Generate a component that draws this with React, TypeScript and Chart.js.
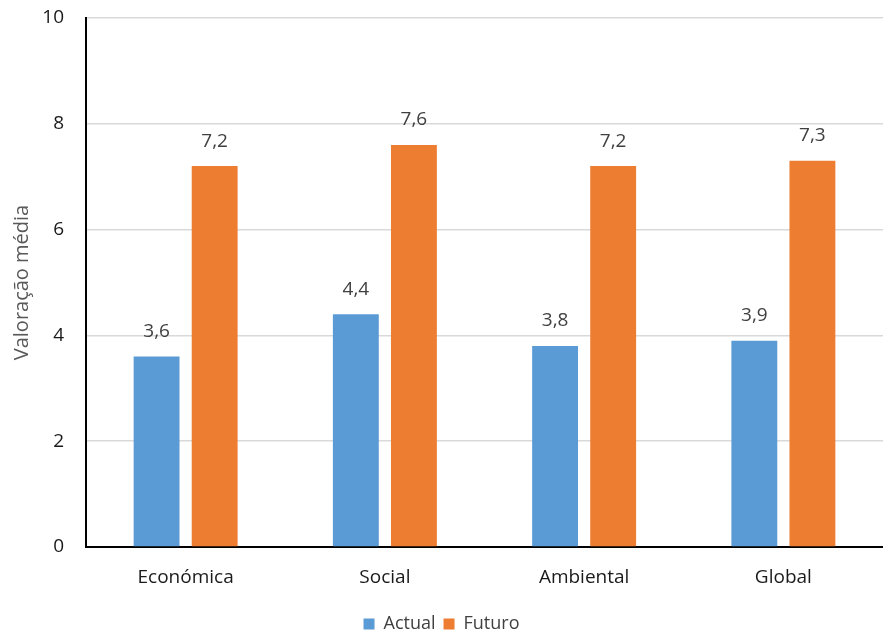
import React, { useEffect, useRef } from "react";
import { Chart, registerables } from "chart.js";

Chart.register(...registerables);

const categories = ["Económica", "Social", "Ambiental", "Global"];
const actualValues = [3.6, 4.4, 3.8, 3.9];
const futuroValues = [7.2, 7.6, 7.2, 7.3];
const seriesNames = ["Actual", "Futuro"];
const yTicks = [0, 2, 4, 6, 8, 10];

const FONT = "'Open Sans', 'DejaVu Sans', sans-serif";

const dataLabelPlugin = {
  id: "dataLabels",
  afterDatasetsDraw(chart: any) {
    const ctx = chart.ctx;
    ctx.save();
    ctx.font = `19px ${FONT}`;
    ctx.fillStyle = "#404040";
    ctx.textAlign = "center";
    ctx.textBaseline = "middle";
    chart.data.datasets.forEach((ds: any, i: number) => {
      const meta = chart.getDatasetMeta(i);
      meta.data.forEach((bar: any, j: number) => {
        const v = ds.data[j];
        ctx.fillText(String(v).replace(".", ","), bar.x, bar.y - 25);
      });
    });
    ctx.restore();
  },
};

export default function App() {
  const ref = useRef<HTMLCanvasElement | null>(null);
  useEffect(() => {
    if (!ref.current) return;
    const chart = new Chart(ref.current, {
      type: "bar",
      data: {
        labels: categories,
        datasets: [
          {
            label: seriesNames[0],
            data: actualValues,
            backgroundColor: "#5B9BD5",
            categoryPercentage: 0.583,
            barPercentage: 0.79,
          },
          {
            label: seriesNames[1],
            data: futuroValues,
            backgroundColor: "#ED7D31",
            categoryPercentage: 0.583,
            barPercentage: 0.79,
          },
        ],
      },
      options: {
        animation: false,
        responsive: false,
        maintainAspectRatio: false,
        layout: { padding: { top: 18, right: 0, bottom: -8, left: 0 } },
        plugins: {
          legend: {
            position: "bottom",
            labels: {
              boxWidth: 11,
              boxHeight: 11,
              padding: 8,
              color: "#404040",
              font: { size: 18, family: FONT },
            },
          },
          tooltip: { enabled: false },
        },
        scales: {
          x: {
            grid: { display: false, drawTicks: false },
            border: { color: "#000000", width: 2 },
            ticks: {
              color: "#1a1a1a",
              font: { size: 19, family: FONT },
              padding: 19,
            },
            afterFit(scale: any) {
              scale.height = 60;
            },
          },
          y: {
            min: 0,
            max: 10,
            afterBuildTicks(scale: any) {
              scale.ticks = yTicks.map((v) => ({ value: v }));
            },
            grid: { color: "#d9d9d9", lineWidth: 1.5, drawTicks: false },
            border: { color: "#000000", width: 2 },
            ticks: {
              color: "#1a1a1a",
              font: { size: 19, family: FONT },
              padding: 22,
            },
            title: {
              display: true,
              text: "Valoração média",
              color: "#595959",
              font: { size: 20, family: FONT },
              padding: { top: 10, bottom: 0 },
            },
            afterFit(scale: any) {
              scale.width = 86;
              scale.paddingTop = 0;
              scale.paddingBottom = 0;
            },
          },
        },
      },
      plugins: [dataLabelPlugin],
    });
    return () => chart.destroy();
  }, []);
  return (
    <div style={{ position: "absolute", left: 0, top: 0, width: 883, height: 635, background: "#fff" }}>
      <canvas ref={ref} width={883} height={635} />
    </div>
  );
}
